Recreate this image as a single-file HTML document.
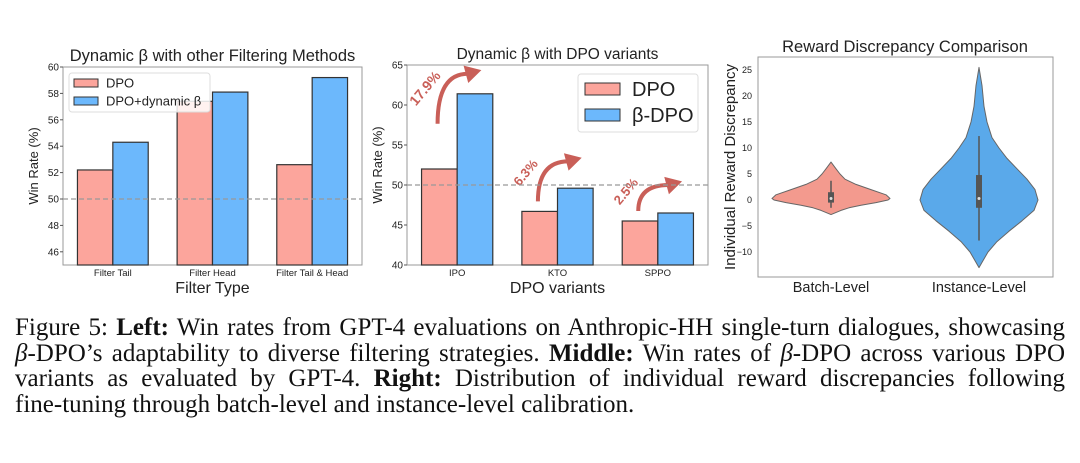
<!DOCTYPE html>
<html><head><meta charset="utf-8"><style>
body{margin:0;background:#fff;width:1080px;height:463px;overflow:hidden;position:relative}
svg{position:absolute;left:0;top:0}
.cap{position:absolute;left:15px;top:315px;width:1050px;font-family:"Liberation Serif",serif;font-size:25px;line-height:25.5px;color:#111}
.cap div{text-align:justify;text-align-last:justify;white-space:nowrap}
.cap div.last{text-align-last:left}
.t{font-family:"Liberation Sans","DejaVu Sans",sans-serif;fill:#222}
</style></head><body>
<svg id="s" width="1080" height="320"></svg>
<div class="cap">
<div>Figure 5: <b>Left:</b> Win rates from GPT-4 evaluations on Anthropic-HH single-turn dialogues, showcasing</div>
<div><i>β</i>-DPO’s adaptability to diverse filtering strategies. <b>Middle:</b> Win rates of <i>β</i>-DPO across various DPO</div>
<div>variants as evaluated by GPT-4. <b>Right:</b> Distribution of individual reward discrepancies following</div>
<div class="last">fine-tuning through batch-level and instance-level calibration.</div>
</div>
<script>
const leftCats=["Filter Tail","Filter Head","Filter Tail & Head"];
const leftDPO=[52.2,57.4,52.6];
const leftDyn=[54.3,58.1,59.2];
const leftTicks=[46,48,50,52,54,56,58,60];
const midCats=["IPO","KTO","SPPO"];
const midDPO=[52.0,46.7,45.5];
const midBeta=[61.4,49.6,46.5];
const midTicks=[40,45,50,55,60,65];
const midGains=["17.9%","6.3%","2.5%"];
const vioCats=["Batch-Level","Instance-Level"];
const batchY=[7.3,6,5,4,3,2,1,0.3,0,-0.5,-1,-1.5,-2,-2.8];
const batchW=[0,5,9,14,25,40,55,59,57,45,30,18,10,0];
const instY=[25.5,22,18,15,12,10,8,6,4,2,0,-2,-4,-6,-8,-10,-12,-13];
const instW=[0,3,5,8,13,20,28,38,48,56,59,55,43,30,18,9,3,0];
const batchBox=[-1.5,-0.5,0.3,1.5,3.7];
const instBox=[-7.8,-1.5,0.3,4.8,12.3];
const vioTicks=[-10,-5,0,5,10,15,20,25];

const S=document.getElementById('s');const NS='http://www.w3.org/2000/svg';
function el(t,a,txt){const e=document.createElementNS(NS,t);for(const k in a)e.setAttribute(k,a[k]);if(txt!==undefined)e.textContent=txt;S.appendChild(e);return e;}
const RED='#fca59c',BLUE='#6cb8fc',AR='#c95f58';

function barChart(o){
  const y=v=>o.bot-(v-o.min)/(o.max-o.min)*(o.bot-o.top);
  el('rect',{x:o.l,y:o.top,width:o.r-o.l,height:o.bot-o.top,fill:'none',stroke:'#999','stroke-width':1});
  o.ticks.forEach(t=>{const tt=el('text',{x:o.l-4,y:y(t)+3.5,'text-anchor':'end','font-size':10,class:'t'},t);
    el('line',{x1:o.l-3,x2:o.l,y1:y(t),y2:y(t),stroke:'#555'});});
  const step=(o.r-o.l)/o.cats.length, bw=step*0.355;
  o.cats.forEach((c,i)=>{const cx=o.l+step*(i+0.5);
    const a=el('rect',{x:cx-bw,y:y(o.s1[i]),width:bw,height:o.bot-y(o.s1[i]),fill:RED,stroke:'#333','stroke-width':1.2});
    
    const b=el('rect',{x:cx,y:y(o.s2[i]),width:bw,height:o.bot-y(o.s2[i]),fill:BLUE,stroke:'#333','stroke-width':1.2});
    
    const tl=el('text',{x:cx,y:o.bot+11,'text-anchor':'middle','font-size':9.5,class:'t'},c);
    if(o.gains){
      const sy=y(o.s2[i])-10, st=Math.min(y(o.s1[i])-10,sy+40), h=i==0?50:i==1?40:26;
      const p=el('path',{d:`M${cx-bw*0.55} ${st} Q${cx-bw*0.55} ${st-h} ${cx+bw*0.3} ${st-h}`,fill:'none',stroke:AR,'stroke-width':4});
      const hx=cx+bw*0.3,hy=st-h;el('polygon',{points:`${hx+14},${hy} ${hx-2},${hy-9} ${hx-2},${hy+9}`,fill:AR,transform:`rotate(-15 ${hx} ${hy})`});
      const gx=cx-bw*0.8,gy=st-h*0.65;
      const g=el('text',{x:gx,y:gy,'text-anchor':'middle','font-size':i==0?14:13,'font-weight':'bold',fill:AR,'font-family':'Liberation Sans,sans-serif',transform:`rotate(-50 ${gx} ${gy})`},o.gains[i]);
      }
  });
  el('line',{x1:o.l,x2:o.r,y1:y(50),y2:y(50),stroke:'#999','stroke-dasharray':'5,3','stroke-width':1.2});
  const ti=el('text',{x:(o.l+o.r)/2,y:o.top-6,'text-anchor':'middle','font-size':o.tfs,class:'t'},o.title);
  const xl=el('text',{x:(o.l+o.r)/2,y:o.bot+28,'text-anchor':'middle','font-size':16,class:'t'},o.xl);
  const yc=(o.top+o.bot)/2;const yl=el('text',{x:o.l-25,y:yc,'text-anchor':'middle','font-size':13,class:'t',transform:`rotate(-90 ${o.l-25} ${yc})`},'Win Rate (%)');
  const L=o.leg;const lb=el('rect',{x:L.x,y:L.y,width:L.w,height:L.h,fill:'#fff','fill-opacity':0.85,stroke:'#ddd',rx:3});
  [[RED,o.n1],[BLUE,o.n2]].forEach((e,k)=>{const yy=L.y+L.e[k];el('rect',{x:L.x+L.px,y:yy-L.ph/2,width:L.pw,height:L.ph,fill:e[0],stroke:'#333'});
    const lt=el('text',{x:L.x+L.px+L.pw+L.gap,y:yy+L.fs*0.36,'font-size':L.fs,class:'t'},e[1]);});
}
barChart({id:'left',l:63,r:362,top:67,bot:265,min:45,max:60,ticks:leftTicks,cats:leftCats,s1:leftDPO,s2:leftDyn,title:'Dynamic β with other Filtering Methods',tfs:16.5,xl:'Filter Type',n1:'DPO',n2:'DPO+dynamic β',
  leg:{x:69,y:73,w:141,h:39,e:[10,28],px:5,pw:24,ph:8,gap:8,fs:13}});
barChart({id:'middle',l:407,r:708,top:65,bot:265,min:40,max:65,ticks:midTicks,cats:midCats,s1:midDPO,s2:midBeta,gains:midGains,title:'Dynamic β with DPO variants',tfs:15.5,xl:'DPO variants',n1:'DPO',n2:'β-DPO',
  leg:{x:578,y:74,w:120,h:58,e:[15,41],px:7,pw:35,ph:12,gap:12,fs:20}});

const V={l:758,r:1053,top:57,bot:277};
const vy=v=>200-v*5.2;
el('rect',{x:V.l,y:V.top,width:V.r-V.l,height:V.bot-V.top,fill:'none',stroke:'#999'});
vioTicks.forEach(t=>{const tt=el('text',{x:V.l-6,y:vy(t)+3,'text-anchor':'end','font-size':9,class:'t'},String(t).replace('-','−'));});
[[831,batchY,batchW,batchBox,'#f39a8e','batch'],[979,instY,instW,instBox,'#5aa9ea','instance']].forEach((v,i)=>{
  const [cx,Y,W,B,col,nm]=v;let d='M'+cx+' '+vy(Y[0]);
  Y.forEach((yy,k)=>d+=` L${cx+W[k]} ${vy(yy)}`);
  for(let k=Y.length-1;k>=0;k--)d+=` L${cx-W[k]} ${vy(Y[k])}`;
  const p=el('path',{d:d+'Z',fill:col,stroke:'#666','stroke-width':1,'stroke-linejoin':'round'});
  el('line',{x1:cx,x2:cx,y1:vy(B[0]),y2:vy(B[4]),stroke:'#555','stroke-width':1.5});
  el('rect',{x:cx-3,y:vy(B[3]),width:6,height:vy(B[1])-vy(B[3]),fill:'#555'});
  el('circle',{cx:cx,cy:vy(B[2]),r:1.5,fill:'#ddd'});
  const xt=el('text',{x:cx,y:292,'text-anchor':'middle','font-size':14.5,class:'t'},vioCats[i]);
});
const rt=el('text',{x:905,y:52,'text-anchor':'middle','font-size':16.5,class:'t'},'Reward Discrepancy Comparison');
const ry=el('text',{x:735,y:167,'text-anchor':'middle','font-size':15,class:'t',transform:'rotate(-90 735 167)'},'Individual Reward Discrepancy');
</script>
</body></html>
